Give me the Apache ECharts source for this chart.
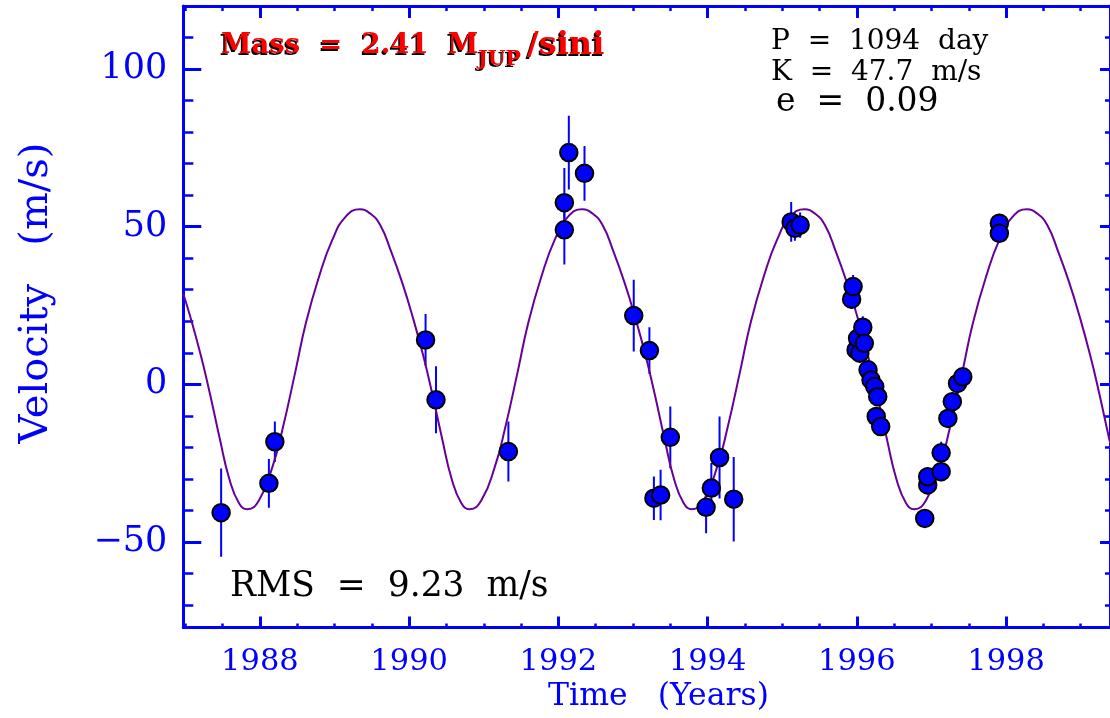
<!DOCTYPE html>
<html>
<head>
<meta charset="utf-8">
<script src="https://cdn.jsdelivr.net/npm/echarts@6/dist/echarts.min.js"></script>
<style>
html,body{margin:0;padding:0;background:#fff;}
#chart{width:1110px;height:718px;}
</style>
</head>
<body>
<div id="chart"></div>
<script>
// ---- axis ranges / ticks ----
const X_MIN = 1986.973, X_MAX = 1999.393;
const Y_MIN = -77.1, Y_MAX = 120;
const X_MAJOR = [1988, 1990, 1992, 1994, 1996, 1998];
const X_MINOR = [1987, 1987.5, 1988.5, 1989, 1989.5, 1990.5, 1991, 1991.5, 1992.5, 1993, 1993.5,
  1994.5, 1995, 1995.5, 1996.5, 1997, 1997.5, 1998.5, 1999];
const Y_MAJOR = [-50, 0, 50, 100];
const Y_MINOR = [-70, -60, -40, -30, -20, -10, 10, 20, 30, 40, 60, 70, 80, 90, 110];

// ---- observations (year, velocity m/s, error m/s) ----
const OBS_T = [1987.48, 1988.12, 1988.20, 1990.22, 1990.36, 1991.33, 1992.08, 1992.08, 1992.14, 1992.35,
  1993.01, 1993.22, 1993.28, 1993.37, 1993.50, 1993.98, 1994.05, 1994.16, 1994.35,
  1995.12, 1995.17, 1995.24,
  1995.93, 1995.95, 1995.99, 1996.01, 1996.04, 1996.08, 1996.10, 1996.15, 1996.19, 1996.24, 1996.26, 1996.28, 1996.32,
  1996.91, 1996.95, 1996.95, 1997.13, 1997.13, 1997.22, 1997.28, 1997.35, 1997.42,
  1997.91, 1997.91];
const OBS_V = [-40.7, -31.4, -18.2, 14.1, -4.9, -21.3, 49.0, 57.6, 73.5, 66.9,
  21.8, 10.7, -36.1, -35.1, -16.8, -39.0, -32.9, -23.2, -36.4,
  51.5, 49.5, 50.5,
  27.0, 31.0, 10.9, 14.6, 9.9, 18.1, 13.0, 4.6, 1.4, -0.7, -10.2, -3.9, -13.4,
  -42.5, -31.9, -29.3, -27.7, -21.7, -10.8, -5.5, 0.3, 2.4,
  51.1, 47.9];
const OBS_ERR = [14, 7.7, 6.4, 8.2, 10.6, 9.5, 11, 11, 11.7, 8.7,
  11.4, 7.4, 6.9, 8, 9.8, 8.2, 8, 13, 13.4,
  6.3, 4, 4,
  3, 3.7, 3, 3, 3, 3.5, 3, 3, 3, 3, 3, 3, 3,
  3, 3, 3, 3, 3.5, 3, 3, 3, 3,
  3, 3];

// ---- orbital fit curve (year, velocity) ----
const CURVE_T = [1986.97, 1987.06, 1987.21, 1987.33, 1987.46, 1987.59, 1987.72, 1987.83, 1987.99, 1988.17, 1988.30, 1988.48, 1988.615, 1988.79, 1988.97, 1989.15, 1989.34, 1989.47,
  1989.61, 1989.76, 1989.91, 1990.04, 1990.19, 1990.31, 1990.44, 1990.57, 1990.70, 1990.81, 1990.97, 1991.15, 1991.28, 1991.46, 1991.595, 1991.77, 1991.95, 1992.13, 1992.32, 1992.45,
  1992.59, 1992.74, 1992.89, 1993.02, 1993.17, 1993.29, 1993.42, 1993.55, 1993.68, 1993.79, 1993.95, 1994.13, 1994.26, 1994.44, 1994.575, 1994.75, 1994.93, 1995.11, 1995.30, 1995.43,
  1995.57, 1995.72, 1995.87, 1996.00, 1996.15, 1996.27, 1996.40, 1996.53, 1996.66, 1996.77, 1996.93, 1997.11, 1997.24, 1997.42, 1997.555, 1997.73, 1997.91, 1998.09, 1998.28, 1998.41,
  1998.55, 1998.70, 1998.85, 1998.98, 1999.13, 1999.25, 1999.38, 1999.51];
const CURVE_V = [28.9, 22, 9, -3, -17, -30, -37.7, -39.6, -36.7, -26, -14.5, 4.6, 19.4, 34, 45.8, 53.2, 55.5, 54.3,
  50.6, 42, 32, 22, 9, -3, -17, -30, -37.7, -39.6, -36.7, -26, -14.5, 4.6, 19.4, 34, 45.8, 53.2, 55.5, 54.3,
  50.6, 42, 32, 22, 9, -3, -17, -30, -37.7, -39.6, -36.7, -26, -14.5, 4.6, 19.4, 34, 45.8, 53.2, 55.5, 54.3,
  50.6, 42, 32, 22, 9, -3, -17, -30, -37.7, -39.6, -36.7, -26, -14.5, 4.6, 19.4, 34, 45.8, 53.2, 55.5, 54.3,
  50.6, 42, 32, 22, 9, -3, -17, -30];

// ---- texts ----
const TXT_MASS = 'Mass  =  2.41  M', TXT_JUP = 'JUP', TXT_SINI = '/sini';
const TXT_P = 'P  =  1094  day', TXT_K = 'K  =  47.7  m/s', TXT_E = 'e  =  0.09';
const TXT_RMS = 'RMS  =  9.23  m/s';
const X_TITLE = 'Time   (Years)', Y_TITLE = 'Velocity   (m/s)';

const BLUE = '#0000ff';
const FONT = 'DejaVu Serif';
const G = {left: 183.3, top: 5.9, width: 927.2, height: 621.6};

function xAx(grid, pos, vals, len, w, showLine, showLabel) {
  return {
    type: 'value', gridIndex: grid, position: pos, min: X_MIN, max: X_MAX,
    axisLine: {show: showLine, onZero: false, lineStyle: {color: BLUE, width: 3}},
    axisTick: {show: true, inside: true, length: len, customValues: vals, lineStyle: {color: BLUE, width: w}},
    axisLabel: showLabel ? {show: true, customValues: vals, color: BLUE, fontFamily: FONT, fontSize: 30.5,
      margin: 35, verticalAlign: 'middle', formatter: v => String(Math.round(v))} : {show: false},
    splitLine: {show: false}
  };
}
function yAx(grid, pos, vals, len, w, showLine, showLabel) {
  return {
    type: 'value', gridIndex: grid, position: pos, min: Y_MIN, max: Y_MAX,
    axisLine: {show: showLine, onZero: false, lineStyle: {color: BLUE, width: 3}},
    axisTick: {show: true, inside: true, length: len, customValues: vals, lineStyle: {color: BLUE, width: w}},
    axisLabel: showLabel ? {show: true, customValues: vals, color: BLUE, fontFamily: FONT, fontSize: 35,
      margin: 16, formatter: v => (v < 0 ? '\u2212' + Math.abs(Math.round(v)) : String(Math.round(v)))} : {show: false},
    splitLine: {show: false}
  };
}

const chart = echarts.init(document.getElementById('chart'), null, {renderer: 'canvas'});
const txt = (text, x, y, font, color, extra) => Object.assign({
  type: 'text', x: x, y: y, z: 50,
  style: Object.assign({text: text, fill: color, font: font, align: 'left', verticalAlign: 'middle'}, extra && extra.style || {})
}, extra && extra.el || {});
const F = (size, bold) => (bold ? 'bold ' : '') + size + 'px "' + FONT + '"';
// red label with a black copy underneath, offset down-left
const shadowed = (text, x, y, font) => [
  Object.assign(txt(text, x - 1.5, y + 1.5, font, '#000000'), {z: 49}),
  txt(text, x, y, font, '#ff0000')
];

chart.setOption({
  animation: false,
  backgroundColor: '#ffffff',
  grid: [Object.assign({}, G), Object.assign({}, G)],
  xAxis: [
    xAx(0, 'bottom', X_MAJOR, 11, 3, true, true),
    xAx(0, 'top', X_MAJOR, 12, 3, true, false),
    xAx(1, 'bottom', X_MINOR, 4, 2.5, false, false),
    xAx(1, 'top', X_MINOR, 5, 2.5, false, false)
  ],
  yAxis: [
    yAx(0, 'left', Y_MAJOR, 18, 3, true, true),
    yAx(0, 'right', Y_MAJOR, 10, 3, true, false),
    yAx(1, 'left', Y_MINOR, 10, 2.5, false, false),
    yAx(1, 'right', Y_MINOR, 5, 2.5, false, false)
  ],
  series: [
    {
      type: 'custom', xAxisIndex: 0, yAxisIndex: 0, z: 2, clip: true,
      data: OBS_T.map((t, i) => [t, OBS_V[i] - OBS_ERR[i], OBS_V[i] + OBS_ERR[i]]),
      encode: {x: 0, y: [1, 2]},
      renderItem: function (params, api) {
        const p1 = api.coord([api.value(0), api.value(1)]);
        const p2 = api.coord([api.value(0), api.value(2)]);
        return {type: 'line', shape: {x1: p1[0], y1: p1[1], x2: p2[0], y2: p2[1]},
          style: {stroke: BLUE, lineWidth: 2}};
      }
    },
    {
      type: 'line', xAxisIndex: 0, yAxisIndex: 0, z: 3, clip: true,
      data: CURVE_T.map((t, i) => [t, CURVE_V[i]]),
      showSymbol: false, smooth: 0.5,
      lineStyle: {color: '#660099', width: 2}
    },
    {
      type: 'scatter', xAxisIndex: 0, yAxisIndex: 0, z: 4,
      data: OBS_T.map((t, i) => [t, OBS_V[i]]),
      symbol: 'circle', symbolSize: 17.5,
      itemStyle: {color: BLUE, borderColor: '#000000', borderWidth: 2, opacity: 1}
    }
  ],
  graphic: [].concat(
    shadowed(TXT_MASS, 221, 46, F(27.5, true)),
    shadowed(TXT_JUP, 478, 60, F(20.5, true)),
    shadowed(TXT_SINI, 527, 46, F(32, true)),
    [
      txt(TXT_P, 771, 41.7, F(28), '#000'),
      txt(TXT_K, 771, 73, F(28), '#000'),
      txt(TXT_E, 776, 102.5, F(33), '#000'),
      txt(TXT_RMS, 230, 587, F(34.5), '#000'),
      txt(X_TITLE, 658.5, 697, F(31.5), BLUE, {style: {align: 'center'}}),
      txt(Y_TITLE, 37, 293, F(40), BLUE, {style: {align: 'center'}, el: {rotation: Math.PI / 2}})
    ]
  )
});
</script>
</body>
</html>
